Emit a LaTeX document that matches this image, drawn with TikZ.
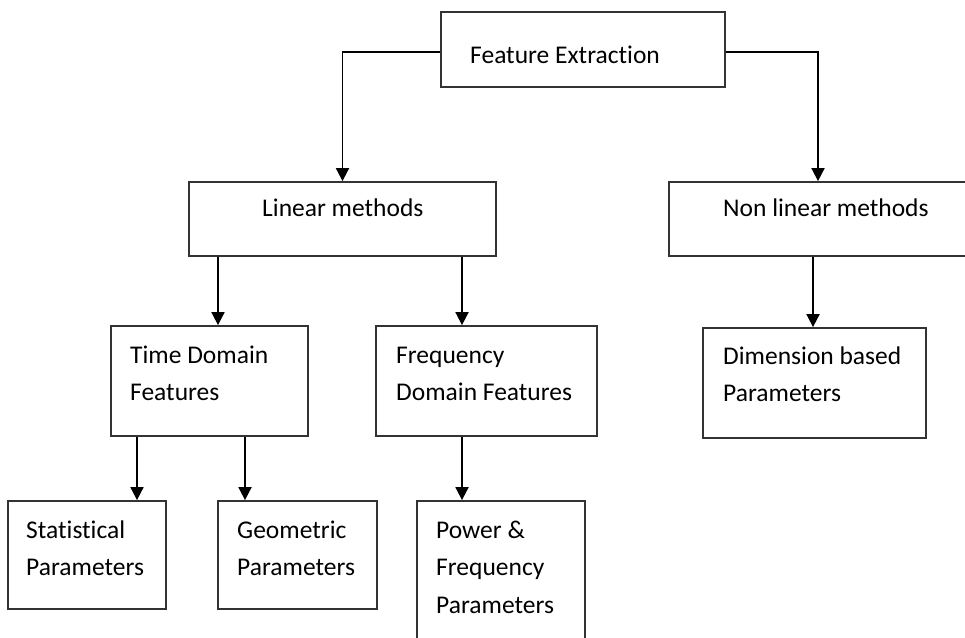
\documentclass[tikz,border=0pt]{standalone}
\usepackage{fontspec}
\setmainfont{Carlito}[Ligatures={NoCommon,NoRequired,NoContextual},Contextuals=NoAlternate]
\usetikzlibrary{arrows.meta}
\begin{document}
\begin{tikzpicture}[x=1pt,y=-1pt,
 box/.style={draw=black!80, line width=1.8pt, inner sep=0pt},
 lbl/.style={anchor=base west, inner sep=0pt, align=left, font=\fontsize{25.5}{37.5}\selectfont},
 arr/.style={draw=black, line width=1.8pt, -{Triangle[width=13pt,length=13pt]}}]
\useasboundingbox (0,0) rectangle (965,637);
% boxes
\node[box, minimum width=284pt, minimum height=75pt] (fe) at (583,49.5) {};
\node[box, minimum width=307pt, minimum height=74pt] (lin) at (342.5,219) {};
\node[box, minimum width=298pt, minimum height=74pt] (nl) at (818,219) {};
\node[box, minimum width=197pt, minimum height=110pt] (tim) at (209.5,381) {};
\node[box, minimum width=221pt, minimum height=110pt] (frq) at (486.5,381) {};
\node[box, minimum width=223pt, minimum height=110pt] (dim) at (814.5,383) {};
\node[box, minimum width=158pt, minimum height=108pt] (sta) at (87,555) {};
\node[box, minimum width=159pt, minimum height=108pt] (geo) at (297.5,555) {};
\node[box, minimum width=168pt, minimum height=159pt] (pow) at (501,580.5) {};
% texts (anchor at baseline of last line)
\node[lbl] (feT) at (470,63) {Feature Extraction};
\node[lbl] (linT) at (262,216) {Linear methods};
\node[lbl] (nlT) at (723,216) {Non linear methods};
\node[lbl] (timT) at (130,400.5) {Time Domain\\Features};
\node[lbl] (frqT) at (396,400.5) {Frequency\\Domain Features};
\node[lbl] (dimT) at (723,401.5) {Dimension based\\Parameters};
\node[lbl] (staT) at (26,575.5) {Statistical\\Parameters};
\node[lbl] (geoT) at (237,575.5) {Geometric\\Parameters};
\node[lbl] (powT) at (436,613) {Power \&\\Frequency\\Parameters};
% connector x positions
\coordinate (a1) at (218,0);
\coordinate (a2) at (462,0);
\coordinate (a3) at (813,0);
\coordinate (a4) at (137,0);
\coordinate (a5) at (245,0);
% connectors
\draw[arr] ([yshift=-2.5pt]fe.west) -| (lin.north);
\draw[arr] ([yshift=-2.5pt]fe.east) -| (nl.north);
\draw[arr] (lin.south -| a1) -- (tim.north -| a1);
\draw[arr] (lin.south -| a2) -- (frq.north -| a2);
\draw[arr] (nl.south -| a3) -- (dim.north -| a3);
\draw[arr] (tim.south -| a4) -- (sta.north -| a4);
\draw[arr] (tim.south -| a5) -- (geo.north -| a5);
\draw[arr] (frq.south -| a2) -- (pow.north -| a2);
\end{tikzpicture}
\end{document}
